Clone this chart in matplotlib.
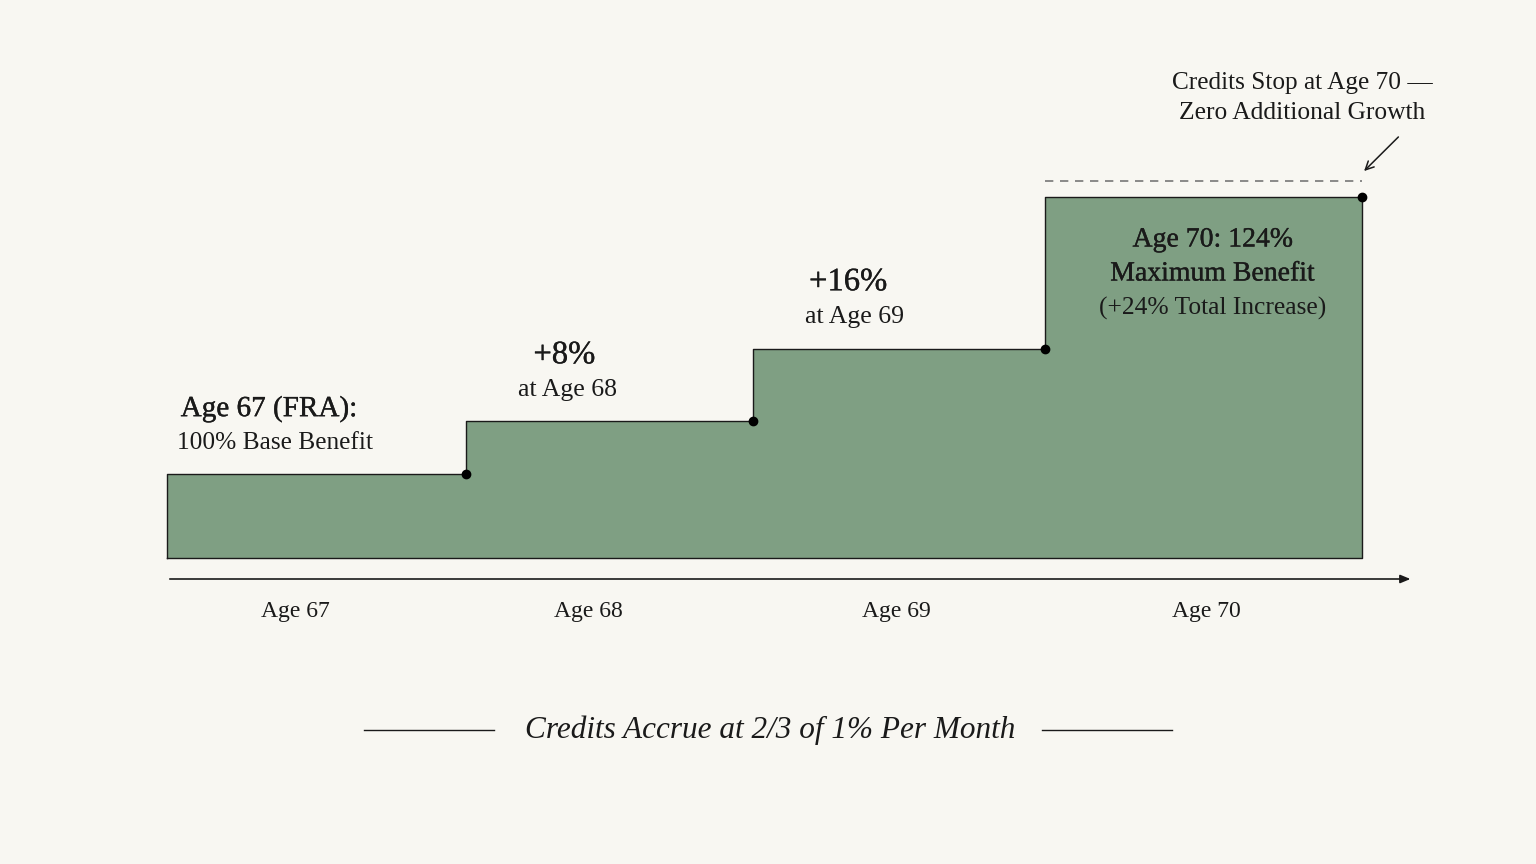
import matplotlib.pyplot as plt
import matplotlib.patheffects as pe
import numpy as np

# step boundaries (years) and visual level of each step
step_edges = [67.0, 68.0, 68.96, 69.94, 71.0]
step_levels = [0.84, 1.37, 2.09, 3.61]
tick_ages = ["Age 67", "Age 68", "Age 69", "Age 70"]
tick_pos = [67.43, 68.41, 69.44, 70.48]

bg = "#f8f7f2"
green = "#7f9f83"
ink = "#1a1a1a"
serif = ["Liberation Serif", "DejaVu Serif"]

plt.rcParams["font.family"] = serif

# slight thickening for the heavier headline labels
heavy = [pe.withStroke(linewidth=0.25, foreground=ink)]

fig = plt.figure(figsize=(15.36, 8.64), dpi=100, facecolor=bg)
ax = fig.add_axes([0, 0, 1, 1])
ax.set_facecolor(bg)
ax.set_xlim(66.441, 71.582)
ax.set_ylim(-3.06, 5.58)
ax.axis("off")

# stepped area
xs = np.array(step_edges)
ys = np.array(step_levels + [step_levels[-1]])
ax.fill_between(xs, 0, ys, step="post", color=green, lw=0)
outline_x = [xs[0]]
outline_y = [0]
for i, lv in enumerate(step_levels):
    outline_x += [xs[i], xs[i + 1]]
    outline_y += [lv, lv]
outline_x += [xs[-1], xs[0]]
outline_y += [0, 0]
ax.plot(outline_x, outline_y, color=ink, lw=1.0)

# corner dots
ax.scatter(xs[1:], step_levels, s=36, color="black", zorder=5)

# dashed ceiling over the last step
ax.plot([xs[3], xs[4]], [step_levels[-1] + 0.16] * 2, ls=(0, (5, 4)), color="#777777", lw=1.2)

# time axis
ax.annotate("", xy=(71.171, -0.21), xytext=(xs[0], -0.21),
            arrowprops=dict(arrowstyle="-|>,head_length=0.6,head_width=0.25", color=ink, lw=1.2))
for p, t in zip(tick_pos, tick_ages):
    ax.text(p, -0.54, t, ha="center", va="center", fontsize=17, color=ink)

# labels above the steps
ax.text(67.34, 1.49, "Age 67 (FRA):", ha="center", va="center", fontsize=21, color=ink,
        path_effects=heavy)
ax.text(67.36, 1.15, "100% Base Benefit", ha="center", va="center", fontsize=18.3, color=ink)
ax.text(68.33, 2.03, "+8%", ha="center", va="center", fontsize=23.5, color=ink, path_effects=heavy)
ax.text(68.34, 1.68, "at Age 68", ha="center", va="center", fontsize=18.5, color=ink)
ax.text(69.28, 2.76, "+16%", ha="center", va="center", fontsize=23.5, color=ink, path_effects=heavy)
ax.text(69.30, 2.41, "at Age 69", ha="center", va="center", fontsize=18.5, color=ink)
ax.text(70.50, 3.18, "Age 70: 124%", ha="center", va="center", fontsize=20, color=ink,
        path_effects=heavy)
ax.text(70.50, 2.84, "Maximum Benefit", ha="center", va="center", fontsize=20, color=ink,
        path_effects=heavy)
ax.text(70.50, 2.50, "(+24% Total Increase)", ha="center", va="center", fontsize=18.4, color=ink)

# callout
ax.text(70.80, 4.75, "Credits Stop at Age 70 \u2014", ha="center", va="center", fontsize=18.2, color=ink)
ax.text(70.80, 4.45, "Zero Additional Growth", ha="center", va="center", fontsize=18.4, color=ink)
ax.annotate("", xy=(71.0, 3.85), xytext=(71.128, 4.23),
            arrowprops=dict(arrowstyle="->,head_length=0.6,head_width=0.3", color=ink, lw=1.1))

# footer caption with rules
ax.text(69.018, -1.72, "Credits Accrue at 2/3 of 1% Per Month", ha="center", va="center",
        fontsize=22.5, style="italic", color=ink)
ax.plot([67.659, 68.094], [-1.72, -1.72], color=ink, lw=1.0)
ax.plot([69.929, 70.364], [-1.72, -1.72], color=ink, lw=1.0)

fig.savefig("out.png", dpi=100, facecolor=bg)
